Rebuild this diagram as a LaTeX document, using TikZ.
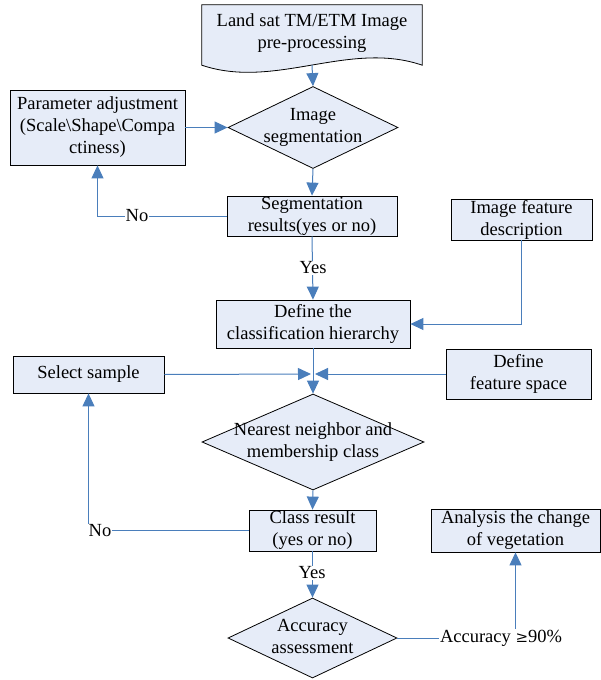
\documentclass[tikz,border=0pt]{standalone}
\usepackage{fontspec}
\setmainfont{Liberation Serif}
\usetikzlibrary{shapes.geometric,arrows.meta,backgrounds}
\definecolor{fillc}{RGB}{230,236,248}
\definecolor{linec}{RGB}{74,126,187}
\begin{document}
\begin{tikzpicture}[x=1pt,y=-1pt,font=\fontsize{18.5}{22}\selectfont,
  box/.style={draw=black, line width=0.8pt, fill=fillc, align=center, inner sep=1pt},
  dia/.style={diamond, draw=black, line width=0.8pt, fill=fillc, inner sep=0pt, aspect=2},
  arr/.style={draw=linec, line width=1pt, -{Triangle[length=13pt,width=12pt]}},
  ln/.style={draw=linec, line width=1pt},
  lbl/.style={fill=white, inner sep=1pt}]
\useasboundingbox (0,0) rectangle (601,680);
% document shape
\node[align=center, inner sep=0pt, minimum width=220pt, minimum height=60pt] (doc) at (312,35) {};
\begin{scope}[on background layer]
\draw[line width=0.8pt, fill=fillc] (doc.south west) -- (doc.north west) -- (doc.north east) -- (doc.south east)
  .. controls (349,40) and (275,90) .. (doc.south west) -- cycle;
\end{scope}
\node[align=center, inner sep=0pt] (doctxt) at (312,33) {Land sat TM/ETM Image\\pre-processing};
% nodes
\node[dia, minimum width=170pt, minimum height=82pt] (d1) at (313,127.5)
  {\makebox[0pt]{\begin{tabular}{@{}c@{}}Image\\segmentation\end{tabular}}};
\node[box, minimum width=175pt, minimum height=75pt] (par) at (97.5,127.5)
  {Parameter adjustment\\(Scale\textbackslash Shape\textbackslash Compa\\ctiness)};
\node[box, minimum width=170pt, minimum height=40pt, inner ysep=-2pt] (seg) at (312,216)
  {Segmentation\\results(yes or no)};
\node[box, minimum width=141pt, minimum height=41pt, inner ysep=-1pt] (ifd) at (521.5,219.5)
  {Image feature\\description};
\node[box, minimum width=194pt, minimum height=48pt] (hier) at (313,324)
  {Define the\\classification hierarchy};
\node[box, minimum width=145pt, minimum height=50pt] (fs) at (518.5,374)
  {Define\\feature space};
\node[box, minimum width=151pt, minimum height=37pt] (ss) at (88.5,374.5)
  {Select sample};
\node[dia, minimum width=222pt, minimum height=96pt] (d2) at (313,442)
  {\makebox[0pt]{\begin{tabular}{@{}c@{}}Nearest neighbor and\\membership class\end{tabular}}};
\node[box, minimum width=127pt, minimum height=41pt, inner ysep=-1pt] (cr) at (312.5,530.5)
  {Class result\\(yes or no)};
\node[box, minimum width=169pt, minimum height=43pt, inner ysep=-1pt] (an) at (515.5,530.5)
  {Analysis the change\\of vegetation};
\node[dia, minimum width=169pt, minimum height=80pt] (d3) at (312.5,638)
  {\makebox[0pt]{\begin{tabular}{@{}c@{}}Accuracy\\assessment\end{tabular}}};
\node[inner sep=1pt] (acc) at (501,638) {Accuracy \raisebox{0pt}{\fontspec{DejaVu Serif}\fontsize{15}{15}\selectfont ≥}90\%};
\coordinate (jl) at (311,374);
\coordinate (jr) at (315,374);
% connectors
\draw[arr] (doc.south) -- (d1.north);
\draw[arr] (par.east) -- (d1.west);
\draw[arr] (d1.south) -- (seg.north);
\draw[arr] (seg.west) -- (par.south |- seg.west) -- (par.south);
\node[lbl] (no1) at (137,216) {No};
\draw[arr] (seg.south) -- (hier.north);
\node[lbl] (yes1) at (313,268) {Yes};
\draw[arr] (ifd.south) -- (ifd.south |- hier.east) -- (hier.east);
\draw[arr] (hier.south) -- (d2.north);
\draw[arr] (ss.east) -- (jl);
\draw[arr] (fs.west) -- (jr);
\draw[arr] (d2.south) -- (cr.north);
\draw[arr] (cr.west) -- (ss.south |- cr.west) -- (ss.south);
\node[lbl] (no2) at (100,531) {No};
\draw[arr] (cr.south) -- (d3.north);
\node[lbl] (yes2) at (312,573) {Yes};
\draw[ln] (d3.east) -- (acc.west);
\draw[arr] (acc.north -| an.south) -- (an.south);
\end{tikzpicture}
\end{document}
